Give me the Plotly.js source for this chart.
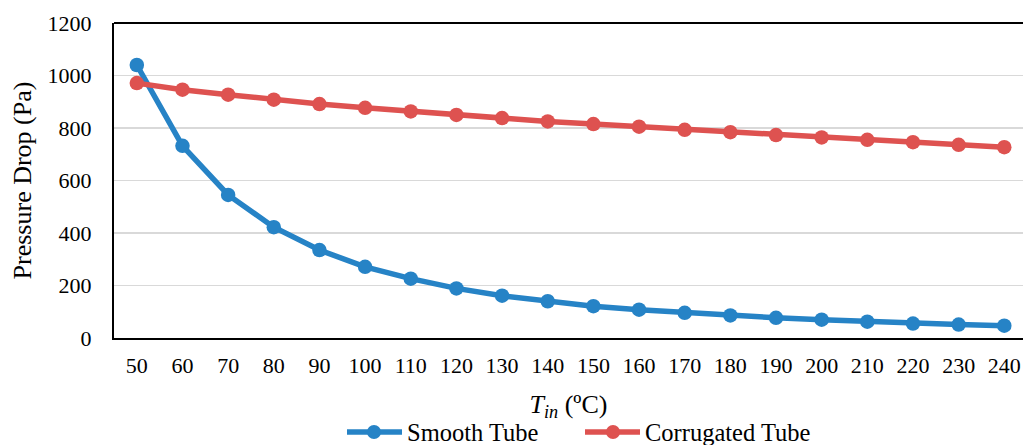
<!DOCTYPE html>
<html>
<head>
<meta charset="utf-8">
<script src="https://cdn.plot.ly/plotly-3.0.1.min.js"></script>
<style>
  html, body { margin: 0; padding: 0; background: #ffffff; }
  #chart { width: 1023px; height: 445px; }
</style>
</head>
<body>
<div id="chart"></div>
<script>
// Inlet temperature categories (°C)
const inletTemps = ['50', '60', '70', '80', '90', '100', '110', '120', '130', '140',
                    '150', '160', '170', '180', '190', '200', '210', '220', '230', '240'];

// Pressure drop (Pa) for each tube type
const smoothTube = [1040, 732, 545, 422, 335, 271, 226, 189, 161, 140,
                    121, 108, 96, 86, 77, 70, 62, 55, 51, 47];
const corrugatedTube = [971, 946, 927, 908, 891, 877, 863, 850, 838, 825,
                        815, 805, 793, 784, 773, 764, 755, 746, 736, 727];

const seriesNames = ['Smooth Tube', 'Corrugated Tube'];
const yTicks = [0, 200, 400, 600, 800, 1000, 1200];

const serif = 'Liberation Serif, Times New Roman, serif';
const colors = ['#2683C6', '#DE5250'];

const W = 1023, H = 445;
const M = { l: 114, r: 0, t: 23, b: 107 };
const plotW = W - M.l - M.r, plotH = H - M.t - M.b;
const px = x => (x - M.l) / plotW;          // pixel -> paper x
const py = y => (H - M.b - y) / plotH;      // pixel -> paper y

const traces = [smoothTube, corrugatedTube].map((vals, i) => ({
  x: inletTemps, y: vals, name: seriesNames[i],
  type: 'scatter', mode: 'lines+markers',
  line: { color: colors[i], width: 5.5 },
  marker: { color: colors[i], size: 14.5 },
  showlegend: false
}));

// Legend: long line key with a centred dot, text to the right
const legendY = py(432);
const legendKeys = [
  { x0: 347, x1: 402, dot: 374, text: 405 },
  { x0: 585, x1: 640, dot: 613, text: 643 }
];
const shapes = [
  { type: 'line', xref: 'paper', yref: 'paper', x0: 0, x1: 1, y0: 1, y1: 1,
    line: { color: '#000000', width: 2 } }
];
const annotations = [];
legendKeys.forEach((k, i) => {
  shapes.push({ type: 'line', xref: 'paper', yref: 'paper',
    x0: px(k.x0), x1: px(k.x1), y0: legendY, y1: legendY,
    line: { color: colors[i], width: 5.5 } });
  shapes.push({ type: 'circle', xref: 'paper', yref: 'paper',
    xsizemode: 'pixel', ysizemode: 'pixel',
    xanchor: px(k.dot), yanchor: legendY,
    x0: -7, x1: 7, y0: -7, y1: 7,
    fillcolor: colors[i], line: { width: 0 } });
  annotations.push({ xref: 'paper', yref: 'paper', x: px(k.text), y: legendY,
    xanchor: 'left', yanchor: 'middle', showarrow: false,
    text: seriesNames[i], font: { family: serif, size: 24.5, color: '#000000' } });
});

const layout = {
  width: W, height: H,
  margin: M,
  paper_bgcolor: '#ffffff', plot_bgcolor: '#ffffff',
  font: { family: serif, color: '#000000', size: 22 },
  showlegend: false,
  xaxis: {
    type: 'category',
    range: [-0.5, 19.41],
    showgrid: false, zeroline: false,
    showline: true, linecolor: '#000000', linewidth: 2,
    ticks: '', ticklabelstandoff: 7,
    tickfont: { family: serif, size: 22, color: '#000000' },
    title: {
      text: '<i>T</i><sub><i>in</i></sub> (ºC)',
      font: { family: serif, size: 26, color: '#000000' },
      standoff: 17
    },
    automargin: false, fixedrange: true
  },
  yaxis: {
    range: [0, 1200],
    tickvals: yTicks, ticktext: yTicks.map(String),
    showgrid: true, gridcolor: '#d9d9d9', gridwidth: 1.5,
    zeroline: false,
    showline: true, linecolor: '#000000', linewidth: 2,
    ticks: '', ticklabelstandoff: 16,
    tickfont: { family: serif, size: 22, color: '#000000' },
    title: {
      text: 'Pressure Drop (Pa)',
      font: { family: serif, size: 26, color: '#000000' },
      standoff: 8
    },
    automargin: false, fixedrange: true
  },
  shapes: shapes,
  annotations: annotations
};

Plotly.newPlot('chart', traces, layout, { displayModeBar: false, staticPlot: true });
</script>
</body>
</html>
